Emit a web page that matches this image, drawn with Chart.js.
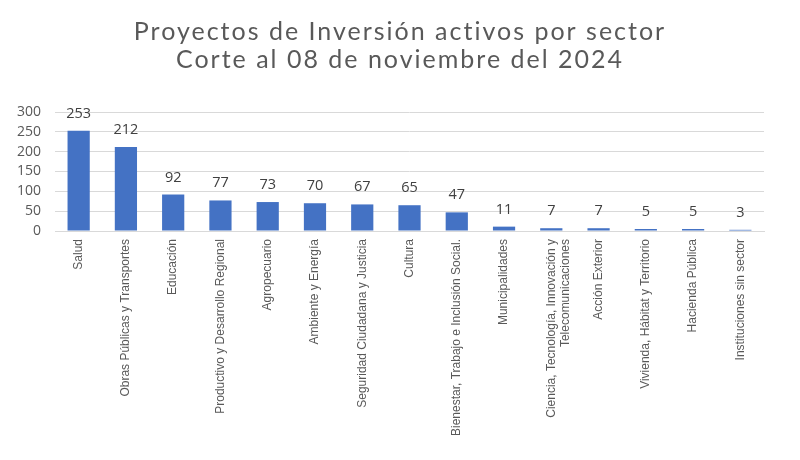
<!DOCTYPE html>
<html>
<head>
<meta charset="utf-8">
<script src="https://cdn.jsdelivr.net/npm/chart.js@4.4.0/dist/chart.umd.min.js"></script>
<style>
    body { margin: 0; background: #ffffff; }
    #wrap { width: 800px; height: 460px; position: relative; }
</style>
</head>
<body>
<div id="wrap"><canvas id="sectorChart"></canvas></div>
<script>
// Data
var sectores = [
    'Salud',
    'Obras Públicas y Transportes',
    'Educación',
    'Productivo y Desarrollo Regional',
    'Agropecuario',
    'Ambiente y Energía',
    'Seguridad Ciudadana y Justicia',
    'Cultura',
    'Bienestar, Trabajo e Inclusión Social.',
    'Municipalidades',
    ['Ciencia, Tecnología, Innovación y', 'Telecomunicaciones'],
    'Acción Exterior',
    'Vivienda, Hábitat y Territorio',
    'Hacienda Pública',
    'Instituciones sin sector'
];
var proyectos = [253, 212, 92, 77, 73, 70, 67, 65, 47, 11, 7, 7, 5, 5, 3];
var yTicks = [0, 50, 100, 150, 200, 250, 300];

var tituloLineas = ['Proyectos de Inversión activos por sector', 'Corte al 08 de noviembre del 2024'];

// Title drawn by hand so it can get the wide letter spacing of the original
var tituloPlugin = {
    id: 'tituloPlugin',
    afterDraw: function(chart) {
        var ctx = chart.ctx;
        ctx.save();
        ctx.font = '25px Lato, sans-serif';
        ctx.fillStyle = '#595959';
        ctx.textAlign = 'center';
        ctx.textBaseline = 'alphabetic';
        if ('letterSpacing' in ctx) ctx.letterSpacing = '2px';
        ctx.fillText(tituloLineas[0], chart.width / 2, 40);
        ctx.fillText(tituloLineas[1], chart.width / 2, 68);
        ctx.restore();
    }
};

// Value labels above each bar
var barLabels = {
    id: 'barLabels',
    afterDatasetsDraw: function(chart) {
        var ctx = chart.ctx;
        var meta = chart.getDatasetMeta(0);
        ctx.save();
        ctx.font = '14.5px "Open Sans", sans-serif';
        ctx.fillStyle = '#404040';
        ctx.textAlign = 'center';
        ctx.textBaseline = 'alphabetic';
        meta.data.forEach(function(bar, i) {
            ctx.fillText(String(proyectos[i]), bar.x, bar.y - 13);
        });
        ctx.restore();
    }
};

document.addEventListener('DOMContentLoaded', function() {
    var ctx = document.getElementById('sectorChart');
    var sectorChart = new Chart(ctx, {
        type: 'bar',
        data: {
            labels: sectores,
            datasets: [{
                data: proyectos,
                backgroundColor: '#4472C4',
                borderWidth: 0,
                categoryPercentage: 1,
                barPercentage: 0.47
            }]
        },
        options: {
            responsive: true,
            maintainAspectRatio: false,
            animation: false,
            layout: { padding: { left: 3, right: 36, top: 112, bottom: 10 } },
            plugins: {
                legend: { display: false },
                tooltip: { enabled: false },
                title: { display: false }
            },
            scales: {
                x: {
                    // the long rotated labels need more room than Chart.js gives by default
                    afterFit: function(scale) { scale.height = 219; },
                    grid: { display: false, drawTicks: false },
                    border: { color: '#d9d9d9', width: 1 },
                    ticks: {
                        autoSkip: false,
                        minRotation: 90,
                        maxRotation: 90,
                        padding: 8,
                        color: '#595959',
                        font: { family: '"Liberation Sans", Arial, sans-serif', size: 12 }
                    }
                },
                y: {
                    min: 0,
                    max: 300,
                    afterBuildTicks: function(axis) {
                        axis.ticks = yTicks.map(function(v) { return { value: v }; });
                    },
                    grid: { color: '#d9d9d9', drawTicks: false },
                    border: { display: false },
                    ticks: {
                        padding: 14,
                        color: '#595959',
                        font: { family: '"Open Sans", sans-serif', size: 14 }
                    }
                }
            }
        },
        plugins: [barLabels, tituloPlugin]
    });
});
</script>
</body>
</html>
